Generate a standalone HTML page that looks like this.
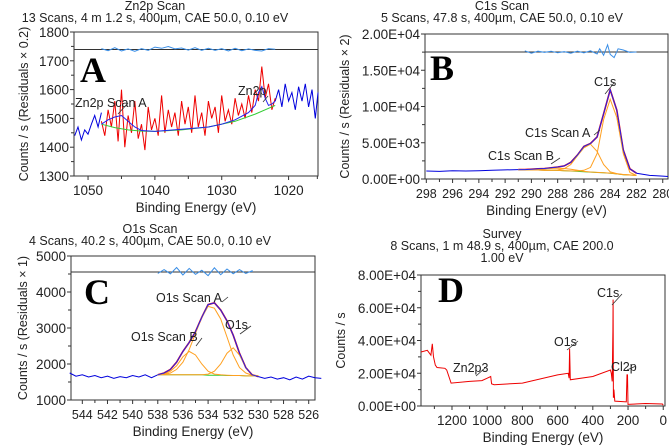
<!DOCTYPE html>
<html><head><meta charset="utf-8">
<style>
body{margin:0;background:#fff;}
svg{display:block;font-family:"Liberation Sans",Arial,sans-serif;}
</style></head>
<body>
<svg id="fig" width="669" height="446" viewBox="0 0 669 446" xmlns="http://www.w3.org/2000/svg"></svg>
<script>
// ---------- Panel A (Zn2p) ----------
const aLeftE=[1052,1051.5,1051,1050.5,1050,1049.5,1049,1048.5,1048];
const aLeftV=[1440,1470,1425,1460,1445,1480,1510,1470,1520];
const aRedE=[1048,1047.5,1047,1046.5,1046,1045.5,1045,1044.5,1044,1043.5,1043,1042.5,1042,1041.5,1041,1040.5,1040,1039.5,1039,1038.5,1038,1037.5,1037,1036.5,1036,1035.5,1035,1034.5,1034,1033.5,1033,1032.5,1032,1031.5,1031,1030.5,1030,1029.5,1029,1028.5,1028,1027.5,1027,1026.5,1026,1025.5,1025,1024.5,1024,1023.5,1023,1022.5,1022];
const aRedV=[1490,1440,1530,1470,1560,1420,1600,1400,1510,1450,1560,1430,1480,1390,1540,1460,1500,1440,1580,1450,1530,1470,1520,1440,1560,1480,1540,1450,1580,1470,1520,1440,1560,1500,1540,1450,1580,1490,1530,1480,1570,1510,1550,1500,1580,1520,1600,1560,1680,1570,1620,1530,1570];
const aFitE=[1048,1047,1046,1045,1044,1043,1042,1040,1036,1032,1030,1028,1026,1025,1024.5,1024,1023.5,1023,1022.5,1022];
const aFitV=[1480,1495,1505,1510,1490,1470,1458,1455,1462,1470,1480,1495,1520,1545,1590,1610,1570,1545,1550,1560];
const aBgE=[1048,1046,1044,1042,1040,1036,1032,1028,1025,1022];
const aBgV=[1480,1468,1460,1456,1455,1460,1470,1490,1515,1545];
const aRightE=[1022,1021.5,1021,1020.5,1020,1019.5,1019,1018.5,1018,1017.5,1017,1016.5,1016,1015.6];
const aRightV=[1560,1600,1540,1620,1560,1590,1530,1610,1560,1620,1540,1600,1500,1590];
const aResE=[1048,1047,1046,1045,1044,1043,1042,1041,1040,1039,1038,1037,1036,1035,1034,1033,1032,1031,1030,1029,1028,1027,1026,1025,1024,1023,1022];
const aResV=[3,-4,6,-5,2,-6,3,-3,8,4,10,2,5,-2,6,-3,4,-3,3,-5,4,-4,2,-3,-5,3,1];
// ---------- Panel B (C1s) ----------
const bE=[291,290.5,290,289.5,289,288.5,288,287.5,287,286.5,286,285.5,285,284.5,284,283.5,283,282.5,282];
const bData=[1300,1300,1350,1400,1450,1550,1650,1800,2300,3300,4500,4900,5800,9000,12300,9500,4000,1400,800];
const bBg=[1300,1280,1260,1240,1220,1200,1180,1150,1100,1050,1000,950,900,850,800,700,600,550,500];
const bC1s=[1300,1280,1260,1240,1220,1200,1180,1150,1120,1100,1200,1600,3500,8200,11000,8500,3500,900,500];
const bCompA=[1300,1280,1260,1240,1220,1220,1250,1400,2000,3200,4300,4800,3800,2000,1000,750,620,560,500];
const bCompB=[1300,1300,1320,1350,1400,1450,1500,1450,1350,1200,1050,970,910,860,810,710,610,550,500];
const bWideE=[298,297,296,295,294,293,292,291,282,281,280,279.6];
const bWideV=[1100,1050,1150,1100,1150,1200,1250,1300,800,500,400,350];
const bResE=[290.5,290,289.5,289,288.5,288,287.5,287,286.5,286,285.5,285,284.8,284.5,284.2,284,283.7,283.4,283,282.5,282];
const bResV=[300,-300,200,-100,200,-200,100,-300,200,-200,300,-500,800,-800,1800,-600,-1400,800,500,-100,0];
// ---------- Panel C (O1s) ----------
const cE=[538,537.5,537,536.5,536,535.5,535,534.5,534,533.5,533,532.5,532,531.5,531,530.5,530];
const cData=[1700,1750,1850,2050,2350,2600,2900,3300,3650,3700,3500,3200,2800,2300,1900,1700,1650];
const cBg=[1700,1700,1700,1700,1700,1700,1700,1700,1690,1690,1690,1680,1680,1680,1670,1670,1670];
const cCompB=[1700,1720,1800,1950,2200,2350,2250,2000,1800,1720,1700,1690,1680,1680,1670,1670,1670];
const cCompA=[1700,1710,1750,1850,2050,2400,2850,3300,3600,3550,3250,2750,2250,1900,1750,1690,1670];
const cO1s=[1700,1700,1700,1700,1700,1700,1700,1700,1720,1800,2000,2300,2450,2250,1900,1700,1670];
const cLeftE=[545,544.5,544,543.5,543,542.5,542,541.5,541,540.5,540,539.5,539,538.5,538];
const cLeftV=[1750,1660,1700,1640,1680,1620,1660,1600,1650,1620,1680,1640,1700,1620,1700];
const cRightE=[530,529.5,529,528.5,528,527.5,527,526.5,526,525.5,525];
const cRightV=[1650,1600,1640,1580,1620,1560,1640,1580,1660,1620,1600];
const cResE=[538,537.5,537,536.5,536,535.5,535,534.5,534,533.5,533,532.5,532,531.5,531,530.5,530.5];
const cResV=[-50,80,-60,150,-100,120,-80,60,-120,140,-90,100,-60,80,-50,40,0];
// ---------- Panel D (Survey) ----------
const dE=[1376,1340,1320,1312,1305,1295,1285,1240,1230,1205,1100,1030,1000,980,975,960,800,600,540,535,532,528,400,300,295,290,286,285,283,280,275,210,206,203,200,100,5,0];
const dV=[33000,34000,31000,38000,30000,25000,23500,23000,22000,14000,15000,15500,17000,18000,13500,13000,14000,19000,20000,17000,35000,16000,18000,22000,20000,15000,46000,65000,5000,10000,3000,2500,19000,19000,1000,1500,1200,500];

const svg=document.getElementById('fig');
const NS='http://www.w3.org/2000/svg';
function el(tag,attrs,parent,text){const e=document.createElementNS(NS,tag);for(const k in attrs)e.setAttribute(k,attrs[k]);if(text!==undefined)e.textContent=text;(parent||svg).appendChild(e);return e;}

function panel(cfg){
  const g=el('g',{});
  
  
  const {x0,x1,y0,y1,eL,eR,vB,vT}=cfg;
  const X=e=>x0+(eL-e)/(eL-eR)*(x1-x0);
  const Y=v=>y1-(v-vB)/(vT-vB)*(y1-y0);
  cfg.X=X;cfg.Y=Y;cfg.g=g;
  cfg.titles.forEach((t,i)=>{const tt=el('text',{x:cfg.tx,y:t[1],'text-anchor':'middle','font-size':'12.5',fill:'#222'},g,t[0]);
    });
  const fr=el('rect',{x:x0,y:y0,width:x1-x0,height:y1-y0,fill:'none',stroke:'#333','stroke-width':1},g);
  
  cfg.yticks.forEach((v,i)=>{const y=Y(v);el('line',{x1:x0-4,x2:x0,y1:y,y2:y,stroke:'#333'},g);
    const t=el('text',{x:x0-5,y:y+5,'text-anchor':'end','font-size':cfg.yfs||13.5,fill:'#222'},g,cfg.ylabels[i]);
    });
  cfg.yminor.forEach(v=>{const y=Y(v);el('line',{x1:x0-3,x2:x0,y1:y,y2:y,stroke:'#333'},g);});
  cfg.xticks.forEach((v,i)=>{const x=X(v);el('line',{x1:x,x2:x,y1:y1,y2:y1+4,stroke:'#333'},g);
    const t=el('text',{x:x,y:y1+19,'text-anchor':'middle','font-size':cfg.xfs||13.5,fill:'#222'},g,cfg.xlabels[i]);
    });
  cfg.xminor.forEach(v=>{const x=X(v);el('line',{x1:x,x2:x,y1:y1,y2:y1+3,stroke:'#333'},g);});
  const xl=el('text',{x:(x0+x1)/2,y:y1+36,'text-anchor':'middle','font-size':'13.5',fill:'#222'},g,'Binding Energy (eV)');
  
  const yl=el('text',{x:0,y:0,'text-anchor':'middle','font-size':'12.5',fill:'#222',transform:`translate(${cfg.ylx},${(y0+y1)/2}) rotate(-90)`},g,cfg.ytitle);
  
  if(cfg.resY!==undefined){el('line',{x1:x0,x2:x1,y1:cfg.resY,y2:cfg.resY,stroke:'#333','stroke-width':1},g);}
  const L=el('text',{x:cfg.letter[1],y:cfg.letter[2],'font-size':'36','font-weight':'bold','font-family':'"Liberation Serif",serif',fill:'#000'},g,cfg.letter[0]);
  
  return cfg;
}
function series(p,E,V,color,name,w){
  const d=E.map((e,i)=>(i?'L':'M')+p.X(e).toFixed(1)+' '+p.Y(V[i]).toFixed(1)).join(' ');
  const s=el('path',{d:d,fill:'none',stroke:color,'stroke-width':w||1},p.g);
  
}
function resid(p,E,V,scale,name){
  const d=E.map((e,i)=>(i?'L':'M')+p.X(e).toFixed(1)+' '+(p.resY-V[i]*scale).toFixed(1)).join(' ');
  const s=el('path',{d:d,fill:'none',stroke:'#3a8ee6','stroke-width':1},p.g);
  
}
function label(p,txt,x,y,lx1,ly1,lx2,ly2){
  const t=el('text',{x:x,y:y,'font-size':'12.5',fill:'#222'},p.g,txt);
  
  el('line',{x1:lx1,y1:ly1,x2:lx2,y2:ly2,stroke:'#333','stroke-width':0.8},p.g);
}

const A=panel({name:'panel-a-zn2p',x0:74,x1:318,y0:32,y1:176,eL:1052.1,eR:1015.6,vB:1300,vT:1800,
  tx:155,titles:[['Zn2p Scan',10],['13 Scans,  4 m 1.2 s,  400µm,  CAE 50.0,  0.10 eV',22]],
  yticks:[1300,1400,1500,1600,1700,1800],ylabels:['1300','1400','1500','1600','1700','1800'],yminor:[1350,1450,1550,1650,1750],
  xticks:[1050,1040,1030,1020],xlabels:['1050','1040','1030','1020'],xminor:[1045,1035,1025,1015.7],
  ylx:28,ytitle:'Counts / s  (Residuals × 0.2)',resY:49.5,letter:['A',80,82]});
series(A,aLeftE,aLeftV,'#0000dd','data-left');
series(A,aRightE,aRightV,'#0000dd','data-right');
series(A,aRedE,aRedV,'#ee0000','data-fit-region');
series(A,aBgE,aBgV,'#33cc33','background');
series(A,aFitE,aFitV,'#2222ee','envelope');
resid(A,aResE,aResV,0.3,'residuals');
label(A,'Zn2p Scan A',75,107,118,114,128,103);
label(A,'Zn2p',238,95,263,102,268,96);

const B=panel({name:'panel-b-c1s',x0:425,x1:668,y0:34,y1:179,eL:298.1,eR:279.6,vB:0,vT:20000,
  tx:502,titles:[['C1s Scan',10],['5 Scans,  47.8 s,  400µm,  CAE 50.0,  0.10 eV',22]],
  yticks:[0,5000,10000,15000,20000],ylabels:['0.00E+00','5.00E+03','1.00E+04','1.50E+04','2.00E+04'],yminor:[2500,7500,12500,17500],
  xticks:[298,296,294,292,290,288,286,284,282,280],xlabels:['298','296','294','292','290','288','286','284','282','280'],xminor:[297,295,293,291,289,287,285,283,281],
  ylx:349,ytitle:'Counts / s  (Residuals × 2)',resY:52,letter:['B',430,80],xfs:12.5});
series(B,bWideE.slice(0,8),bWideV.slice(0,8),'#0000dd','data-left');
series(B,bWideE.slice(8),bWideV.slice(8),'#0000dd','data-right');
series(B,bE,bData,'#ee0000','data',1.6);
series(B,bE,bBg,'#33cc33','background');
series(B,bE,bC1s,'#ffa020','component-c1s');
series(B,bE,bCompA,'#ffa020','component-a');
series(B,bE,bCompB,'#ffa020','component-b');
series(B,bE,bData,'#2222ee','envelope');
resid(B,bResE,bResV,0.004,'residuals');
label(B,'C1s',594,86,605,94,614,83);
label(B,'C1s Scan A',525,137,594,135,600,130);
label(B,'C1s Scan B',488,160,551,164,560,158);

const C=panel({name:'panel-c-o1s',x0:71,x1:315,y0:256,y1:400,eL:544.9,eR:525.5,vB:1000,vT:5000,
  tx:150,titles:[['O1s Scan',233],['4 Scans,  40.2 s,  400µm,  CAE 50.0,  0.10 eV',245]],
  yticks:[1000,2000,3000,4000,5000],ylabels:['1000','2000','3000','4000','5000'],yminor:[1500,2500,3500,4500],
  xticks:[544,542,540,538,536,534,532,530,528,526],xlabels:['544','542','540','538','536','534','532','530','528','526'],xminor:[543,541,539,537,535,533,531,529,527],
  ylx:27,ytitle:'Counts / s  (Residuals × 1)',resY:272,letter:['C',84,304],xfs:12.5});
series(C,cLeftE,cLeftV,'#0000dd','data-left');
series(C,cRightE,cRightV,'#0000dd','data-right');
series(C,cE,cData,'#ee0000','data',1.6);
series(C,cE,cBg,'#33cc33','background');
series(C,cE,cCompB,'#ffa020','component-b');
series(C,cE,cCompA,'#ffa020','component-a');
series(C,cE,cO1s,'#ffa020','component-o1s');
series(C,cE,cData,'#2222ee','envelope');
resid(C,cResE,cResV,0.03,'residuals');
label(C,'O1s Scan A',156,302,222,302,228,297);
label(C,'O1s',225,329,240,334,251,326);
label(C,'O1s Scan B',131,341,196,346,202,338);

const D=panel({name:'panel-d-survey',x0:421,x1:665,y0:275,y1:406,eL:1376,eR:-10,vB:0,vT:80000,
  tx:502,titles:[['Survey',238],['8 Scans,  1 m 48.9 s,  400µm,  CAE 200.0',250],['1.00 eV',262]],
  yticks:[0,20000,40000,60000,80000],ylabels:['0.00E+00','2.00E+04','4.00E+04','6.00E+04','8.00E+04'],yminor:[10000,30000,50000,70000],
  xticks:[1200,1000,800,600,400,200,0],xlabels:['1200','1000','800','600','400','200','0'],xminor:[1300,1100,900,700,500,300,100],
  ylx:345,ytitle:'Counts / s',letter:['D',438,302]});
series(D,dE,dV,'#ee0000','survey-spectrum');
label(D,'C1s',597,297,612,305,622,294);
label(D,'O1s',554,346,567,350,578,341);
label(D,'Zn2p3',453,372,476,376,485,368);
label(D,'Cl2p',611,371,627,370,636,366);
</script>
</body></html>
